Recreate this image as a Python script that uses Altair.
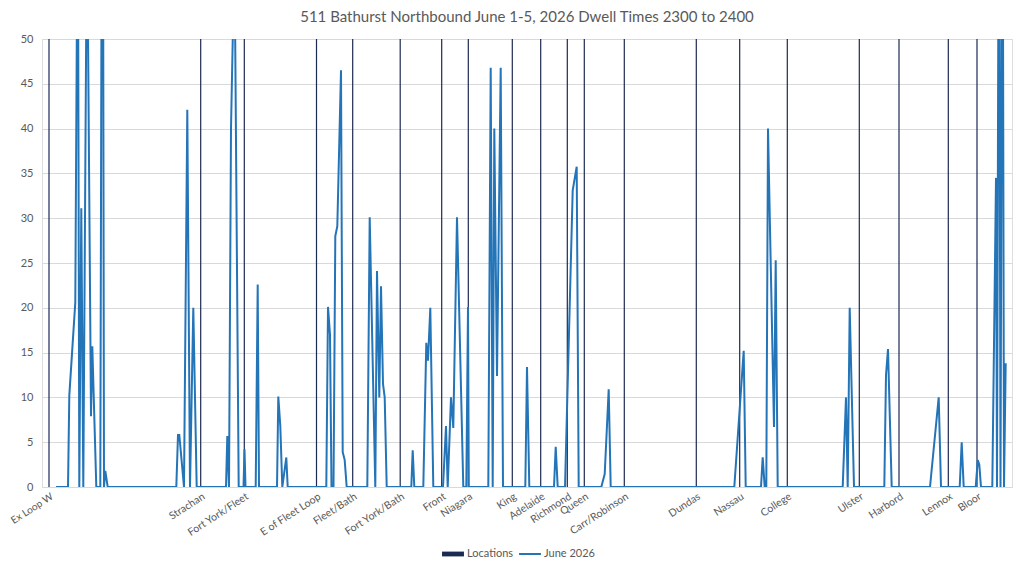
import altair as alt
import pandas as pd

# ---- data ----
title_text = "511 Bathurst Northbound June 1-5, 2026 Dwell Times 2300 to 2400"

loc_names = ["Ex Loop W", "Strachan", "Fort York/Fleet", "E of Fleet Loop", "Fleet/Bath",
             "Fort York/Bath", "Front", "Niagara", "King", "Adelaide", "Richmond", "Queen",
             "Carr/Robinson", "Dundas", "Nassau", "College", "Ulster", "Harbord", "Lennox", "Bloor"]
loc_dist = [7, 158.7, 202.3, 274.5, 310.7, 358.2, 399.7, 426.3, 470.3, 498.7, 525.3, 542.3,
            582.3, 654.3, 697.7, 745.3, 817.3, 857, 906.3, 935]
loc_height = [50] * len(loc_names)

line_dist = [14, 26, 27.3, 33.3, 35.8, 37.3, 39.3, 41.3, 45, 49, 50.3, 54.3, 58.3, 60.5, 62, 63.3, 65.7,
             134.3, 136, 137.3, 142, 145.3, 148, 151.3, 154.7,
             184, 185.3, 187, 189, 192.5, 196.7, 201.5, 202.5, 203.5, 213.7, 215.7, 217,
             235, 236.3, 238.3, 240.3, 244.3, 245.7,
             284.3, 286, 288, 289.5, 291.5, 293.3, 295.3, 299, 300.7, 302.7, 304.7,
             325.3, 327.7, 333.3, 335, 337.3, 339, 341, 342.7, 344.7,
             369.3, 370.7, 372.3, 381.3, 384.3, 386, 388.3, 391.3,
             401, 404, 405.7, 409, 411.3, 415, 421.3, 424.3, 426, 426.8,
             446.3, 448.7, 450.7, 452.3, 455, 458.7, 461,
             483.3, 485, 487.3, 512, 513.7, 515.7, 523, 530.7, 534.7, 536.7,
             559.3, 562.7, 566.7, 568.7, 692.3, 701.7, 703.7,
             719, 720.7, 722.7, 724.3, 726, 732, 733.7, 735.7,
             800.7, 804, 805.7, 807.7, 812, 842.3, 844, 846, 849.7,
             888, 896.7, 899, 917.7, 919.7, 921.7, 933.7, 935.8, 937.3, 939,
             950.3, 954, 955, 957, 958.5, 960.5, 962, 963.7]
line_val = [0, 0, 10.2, 20.6, 70, 0, 31.1, 0, 65, 7.9, 15.7, 0, 0, 100, 0, 1.8, 0,
            0, 5.8, 5.8, 0, 42.1, 0, 20, 0,
            0, 5.7, 0, 40, 60, 0, 0, 4.2, 0, 0, 22.6, 0,
            0, 10.1, 6.8, 0, 3.3, 0,
            0, 20.1, 17, 0, 0, 28, 29.1, 46.5, 3.9, 3.0, 0,
            0, 30.1, 0, 24.1, 10, 22.4, 11.5, 10, 0,
            0, 4.1, 0, 0, 16.1, 14.1, 20, 0,
            0, 6.8, 0, 10, 6.6, 30.1, 0, 0, 20.1, 0,
            0, 46.8, 0, 40, 12.4, 46.8, 0,
            0, 13.4, 0, 0, 4.5, 0, 0, 33.1, 35.75, 0,
            0, 1.45, 10.9, 0, 0, 15.2, 0,
            0, 3.3, 0, 0, 40, 6.7, 25.3, 0,
            0, 10, 0, 20, 0, 0, 12.5, 15.4, 0,
            0, 10, 0, 0, 5, 0, 0, 3, 2.5, 0,
            0, 34.5, 0, 80, 0, 80, 0, 13.8]

locs = pd.DataFrame({"dist": loc_dist, "name": loc_names, "h": loc_height, "series": "Locations"})
line = pd.DataFrame({"dist": line_dist, "val": line_val, "series": "June 2026"})

FONT = "Lato"
GREY = "#595959"
NAVY = "#1B2A52"
BLUE = "#2474B8"

names_js = "[" + ",".join("'" + n + "'" for n in loc_names) + "]"
vals_js = "[" + ",".join(str(v) for v in loc_dist) + "]"

xscale = alt.Scale(domain=[0, 970], nice=False, zero=False, padding=0)
yscale = alt.Scale(domain=[0, 50], nice=False, padding=0)

bars = alt.Chart(locs).mark_bar(width=1.2).encode(
    x=alt.X("dist:Q", scale=xscale, title=None,
            axis=alt.Axis(values=loc_dist, labelExpr=names_js + "[indexof(" + vals_js + ", datum.value)]",
                          labelAngle=-33, labelAlign="right", labelBaseline="top",
                          labelOverlap=False, labelBound=False, labelFlush=False,
                          ticks=False, domain=False, grid=False, labelPadding=4,
                          labelFont=FONT, labelColor=GREY,
                          labelFontSize={"condition": {"test": "datum.value == " + str(loc_dist[0]), "value": 10},
                                         "value": 10.5})),
    y=alt.Y("h:Q", scale=yscale, title=None,
            axis=alt.Axis(values=list(range(0, 51, 5)), ticks=False, domain=False,
                          gridColor="#D9D9D9", gridWidth=1, labelPadding=9,
                          labelFont=FONT, labelFontSize=11, labelColor=GREY)),
    color=alt.Color("series:N", scale=alt.Scale(domain=["Locations"], range=[NAVY]),
                    legend=alt.Legend(title=None, orient="none", legendX=399, legendY=503,
                                      symbolType="M-1,-0.22H1V0.22H-1Z", symbolSize=480,
                                      labelFont=FONT, labelFontSize=11, labelColor=GREY,
                                      labelOffset=2, padding=0)),
)

ln = alt.Chart(line).mark_line(clip=True, strokeWidth=2, interpolate="linear").encode(
    x=alt.X("dist:Q", scale=xscale),
    y=alt.Y("val:Q", scale=yscale),
    stroke=alt.Stroke("series:N", scale=alt.Scale(domain=["June 2026"], range=[BLUE]),
                      legend=alt.Legend(title=None, orient="none", legendX=476, legendY=503,
                                        symbolType="stroke", symbolSize=480, symbolStrokeWidth=2,
                                        labelFont=FONT, labelFontSize=11, labelColor=GREY,
                                        labelOffset=2, padding=0)),
)

chart = alt.layer(bars, ln).resolve_scale(color="independent", stroke="independent").properties(
    width=970, height=448,
    title=alt.Title(title_text, font=FONT, fontSize=15, fontWeight="normal", color=GREY, offset=8),
    autosize=alt.AutoSizeParams(type="none"),
    padding={"left": 34, "top": 31, "right": 4, "bottom": 76},
).configure_view(fill="#BFBFBF", stroke=None).configure(background="white")

chart.save("out.html", embed_options={"renderer": "svg", "actions": False})
